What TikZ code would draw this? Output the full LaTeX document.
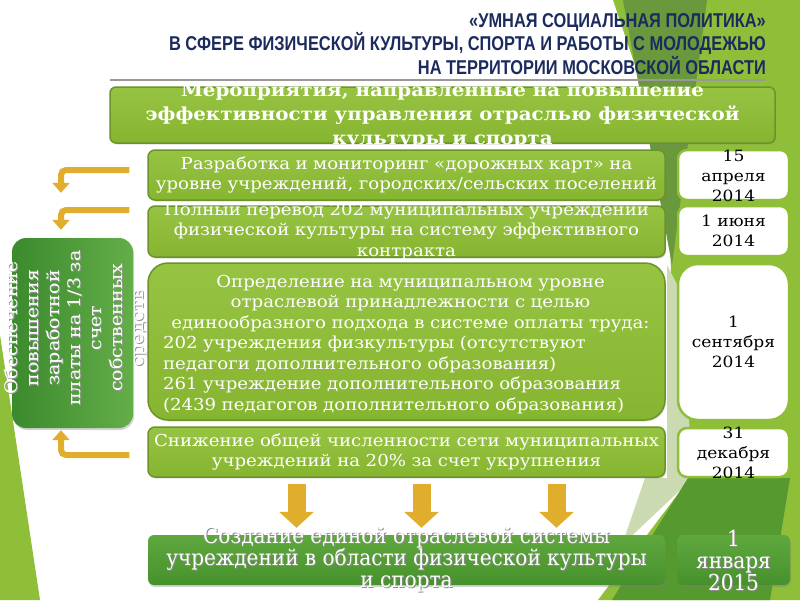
\documentclass[tikz,border=0pt]{standalone}
\usepackage{fontspec}
\setmainfont{DejaVu Serif}
\newfontfamily\titlefont[FakeStretch=0.82]{Liberation Sans}
\newfontfamily\narrowserif[FakeStretch=0.91]{DejaVu Serif}
\newfontfamily\wideserif[FakeStretch=1.1]{DejaVu Serif}
\usetikzlibrary{arrows.meta,shadows}

\definecolor{titleblue}{HTML}{1C2B5E}
\definecolor{leafgreen}{HTML}{86B531}
\definecolor{leaflight}{HTML}{97C342}
\definecolor{leafdark}{HTML}{6A9526}
\definecolor{forest}{HTML}{3B8A2D}
\definecolor{forestlight}{HTML}{64AE49}
\definecolor{mossgreen}{HTML}{5FA83E}
\definecolor{mossdark}{HTML}{47912D}
\definecolor{gold}{HTML}{E0AE2C}
\definecolor{paleleaf}{HTML}{CBDAB1}
\definecolor{olive}{HTML}{6A983C}
\definecolor{deepgreen}{HTML}{55992F}
\definecolor{bgleaf}{HTML}{8FBE38}

\begin{document}
\begin{tikzpicture}[x=1pt,y=-1pt,
   rowbox/.style={draw=leafdark, line width=1.5pt, rounded corners=7pt,
      top color=leaflight, bottom color=leafgreen, minimum width=517pt, inner sep=0pt,
      drop shadow={opacity=0.25, shadow xshift=1pt, shadow yshift=-1.5pt}},
   rowtext/.style={text=white, align=center, text width=580pt,
      font=\wideserif\fontsize{16.5}{20.5}\selectfont},
   datebox/.style={draw=bgleaf, line width=2.5pt, fill=white, rounded corners=9pt,
      minimum width=111pt, inner sep=0pt},
   datetext/.style={align=center, font=\wideserif\fontsize{15.5}{20}\selectfont},
   mossbox/.style={rounded corners=6pt, top color=mossgreen, bottom color=mossdark,
      inner sep=0pt, drop shadow={opacity=0.35, shadow xshift=1pt, shadow yshift=-2pt}},
   mosstext/.style={align=center, font=\narrowserif\fontsize{22}{22}\selectfont},
   lboxtext/.style={rotate=90, align=center, text width=190pt,
      font=\wideserif\fontsize{17.3}{21}\selectfont},
   goldarrow/.style={draw=gold, line width=6pt, rounded corners=5pt,
      -{Triangle[width=17pt,length=10pt]}},
   downarrow/.style={draw=gold, line width=18pt, -{Triangle[width=34pt,length=16pt]}}]

   \useasboundingbox (0,0) rectangle (800,600);
   \fill[bgleaf] (613,0) -- (800,0) -- (800,600) -- (598,600) -- (690,478) -- (672,300) -- (667,160) -- cycle;
   \fill[olive] (623,0) -- (707,0) -- (672,265) -- cycle;
   \fill[paleleaf] (667,265) -- (680,290) -- (693,478) -- (622,545) -- (645,478) -- (667,478) -- cycle;
   \fill[deepgreen] (688,478) -- (790,478) -- (770,600) -- (612,600) -- cycle;
   \fill[bgleaf] (0,335) -- (40,600) -- (0,600) -- cycle;

   \node[anchor=east, align=right, inner sep=0pt, text=titleblue,
         font=\titlefont\bfseries\fontsize{20}{23.5}\selectfont] (title) at (766,44)
        {«УМНАЯ СОЦИАЛЬНАЯ ПОЛИТИКА»\\ В СФЕРЕ ФИЗИЧЕСКОЙ КУЛЬТУРЫ, СПОРТА И РАБОТЫ С МОЛОДЕЖЬЮ\\ НА ТЕРРИТОРИИ МОСКОВСКОЙ ОБЛАСТИ};
   \draw[black!40, line width=2pt] (110,80) -- (765,80);

   \node[rowbox, minimum width=665pt, minimum height=56pt, rounded corners=6pt] (goal) at (442.5,115) {};
   \node[text=white, align=center, font=\wideserif\bfseries\fontsize{18}{24}\selectfont] (goalt) at (442.5,116)
        {Мероприятия, направленные на повышение\\ эффективности управления отраслью физической\\ культуры и спорта};

   \node[rowbox, minimum height=50pt] (r1) at (406.5,175) {};
   \node[rowtext] (r1t) at (r1) {Разработка и мониторинг «дорожных карт» на\\ уровне учреждений, городских/сельских поселений};
   \node[rowbox, minimum height=51pt] (r2) at (406.5,231.5) {};
   \node[rowtext] (r2t) at (r2) {Полный перевод 202 муниципальных учреждений\\ физической культуры на систему эффективного\\ контракта};
   \node[rowbox, minimum height=157pt, rounded corners=20pt] (r3) at (406.5,341.5) {};
   \node[rowtext, align=left, text width=495pt] (r3t) at ([xshift=4pt,yshift=-3pt]r3.center)
        {\centering Определение на муниципальном уровне\\ отраслевой принадлежности с целью\\ единообразного подхода в системе оплаты труда:\par
         \raggedright 202 учреждения физкультуры (отсутствуют\\ педагоги дополнительного образования)\\ 261 учреждение дополнительного образования\\ (2439 педагогов дополнительного образования)};
   \node[rowbox, minimum height=50pt] (r4) at (406.5,452) {};
   \node[rowtext] (r4t) at (r4) {Снижение общей численности сети муниципальных\\ учреждений на 20\% за счет укрупнения};

   \node[datebox, minimum height=50pt] (d1) at (733.5,175) {};
   \node[datetext] (d1t) at ([yshift=-1pt]d1.center) {15\\ апреля\\ 2014};
   \node[datebox, minimum height=50pt] (d2) at (733.5,231) {};
   \node[datetext] (d2t) at (d2) {1 июня\\ 2014};
   \node[datebox, minimum height=156pt, rounded corners=20pt] (d3) at (733.5,342) {};
   \node[datetext] (d3t) at (d3) {1\\ сентября\\ 2014};
   \node[datebox, minimum height=49pt] (d4) at (733.5,452.5) {};
   \node[datetext] (d4t) at (d4) {31\\ декабря\\ 2014};

   \node[mossbox, minimum width=517pt, minimum height=50pt] (bot) at (406.5,560) {};
   \node[mosstext, text=black!45] (botsh) at ([xshift=1pt,yshift=-1pt]bot.center)
        {Создание единой отраслевой системы\\ учреждений в области физической культуры\\ и спорта};
   \node[mosstext, text=white] (bott) at (bot.center)
        {Создание единой отраслевой системы\\ учреждений в области физической культуры\\ и спорта};
   \node[mossbox, minimum width=113pt, minimum height=50pt] (bd) at (733.5,560) {};
   \node[mosstext, text=black!45] (bdsh) at ([xshift=1pt,yshift=-1pt]bd.center) {1\\ января\\ 2015};
   \node[mosstext, text=white] (bdt) at (bd.center) {1\\ января\\ 2015};

   \node[rounded corners=14pt, left color=forest, right color=forestlight, minimum width=121pt,
         minimum height=190pt, inner sep=0pt,
         drop shadow={opacity=0.35, shadow xshift=1pt, shadow yshift=-2pt}] (lbox) at (72.5,333) {};
   \node[lboxtext, text=black!40] (lboxsh) at ([xshift=4pt,yshift=4pt]lbox.center)
        {Обеспечение\\ повышения\\ заработной\\ платы на 1/3 за\\ счет\\ собственных\\ средств};
   \node[lboxtext, text=white] (lboxt) at ([xshift=3pt,yshift=5pt]lbox.center)
        {Обеспечение\\ повышения\\ заработной\\ платы на 1/3 за\\ счет\\ собственных\\ средств};

   \draw[goldarrow] ([xshift=-18pt,yshift=5pt]r1.west) -| ([xshift=-11.5pt,yshift=45pt]lbox.north);
   \draw[goldarrow] ([xshift=-18pt,yshift=21.5pt]r2.west) -| ([xshift=-11.5pt,yshift=8pt]lbox.north);
   \draw[goldarrow] ([xshift=-18pt,yshift=-3pt]r4.west) -| ([xshift=-11.5pt,yshift=-2pt]lbox.south);
   \foreach \dx in {-110,15,150}
      \draw[downarrow] ([xshift=\dx pt,yshift=-6pt]r4.south) -- ([xshift=\dx pt,yshift=7pt]bot.north);
\end{tikzpicture}
\end{document}
